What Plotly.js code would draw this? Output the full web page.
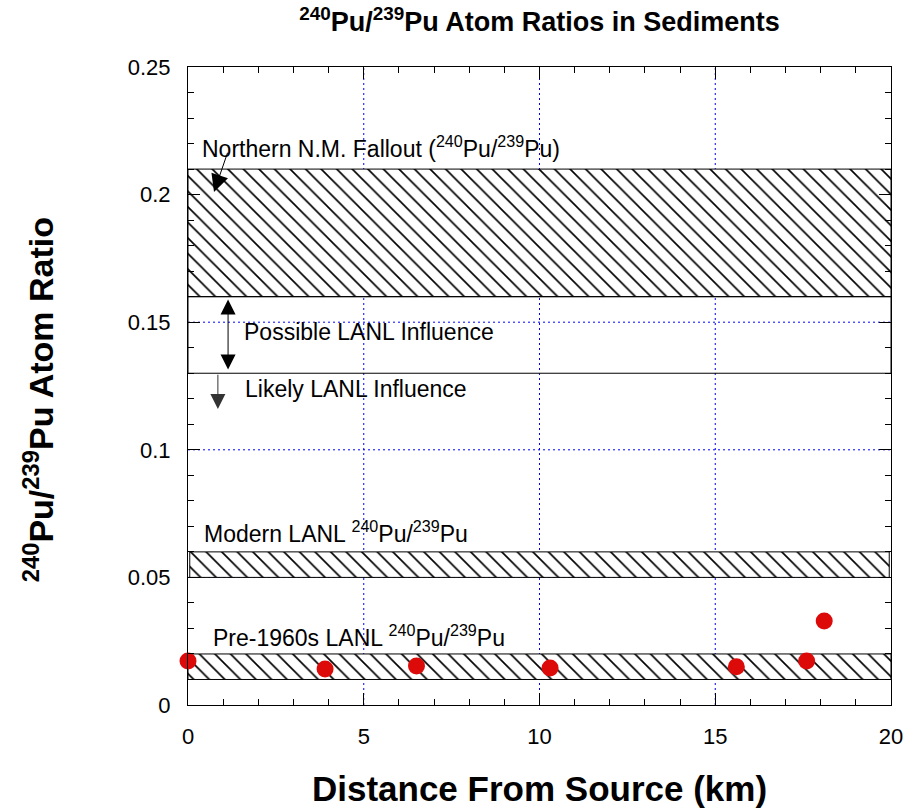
<!DOCTYPE html>
<html>
<head>
<meta charset="utf-8">
<script src="https://cdn.plot.ly/plotly-3.0.1.min.js"></script>
<style>html,body{margin:0;padding:0;background:#fff;}#chart{width:905px;height:812px;}</style>
</head>
<body>
<div id="chart"></div>
<script>
// Sample data: distance from source (km) and 240Pu/239Pu atom ratio
const distanceKm = [0, 3.9, 6.5, 10.3, 15.6, 17.6, 18.1];
const atomRatio  = [0.0172, 0.0141, 0.0153, 0.0145, 0.0150, 0.0172, 0.0329];

// Reference bands (hatched): [xStart, xEnd, yLow, yHigh]
const bandNames = ["Northern N.M. Fallout", "Modern LANL", "Pre-1960s LANL"];
const bandXStart = [0, 0.05, 0];
const bandXEnd   = [20, 19.95, 20];
const bandLow    = [0.16, 0.05, 0.01];
const bandHigh   = [0.21, 0.06, 0.02];

// Open (unhatched) band: possible LANL influence
const openBandLow = 0.13;
const openBandHigh = 0.16;

const xTickVals = [0, 5, 10, 15, 20];
const yTickVals = [0, 0.05, 0.1, 0.15, 0.2, 0.25];
const yTickText = ["0", "0.05", "0.1", "0.15", "0.2", "0.25"];

const FONT = "Arial, 'Liberation Sans', sans-serif";

const traces = [];
for (let i = 0; i < bandNames.length; i++) {
  traces.push({
    type: "scatter", mode: "lines", name: bandNames[i],
    x: [bandXStart[i], bandXEnd[i], bandXEnd[i], bandXStart[i], bandXStart[i]],
    y: [bandLow[i], bandLow[i], bandHigh[i], bandHigh[i], bandLow[i]],
    fill: "toself",
    fillcolor: "white",
    fillpattern: {shape: "\\", bgcolor: "white", fgcolor: "black", size: 11, solidity: 0.15},
    line: {color: "black", width: 1},
    hoverinfo: "skip", showlegend: false
  });
}
traces.push({
  type: "scatter", mode: "lines", name: "Possible LANL Influence",
  x: [0, 20, 20, 0, 0],
  y: [openBandLow, openBandLow, openBandHigh, openBandHigh, openBandLow],
  line: {color: "black", width: 1},
  hoverinfo: "skip", showlegend: false
});
traces.push({
  type: "scatter", mode: "markers", name: "Sediments",
  x: distanceKm, y: atomRatio,
  marker: {color: "#dd0a0a", size: 17},
  cliponaxis: false, showlegend: false
});

// blue dotted grid lines at interior major ticks (drawn below the bands)
const shapes = [];
xTickVals.slice(1, -1).forEach(v => shapes.push({
  type: "line", layer: "below", xref: "x", yref: "paper", x0: v, x1: v, y0: 0, y1: 1,
  line: {color: "#0000ff", width: 1, dash: "2px,3px"}
}));
yTickVals.slice(1, -1).forEach(v => shapes.push({
  type: "line", layer: "below", xref: "paper", yref: "y", x0: 0, x1: 1, y0: v, y1: v,
  line: {color: "#0000ff", width: 1, dash: "2px,3px"}
}));

const textFont = {family: FONT, size: 23, color: "black"};
const annotations = [
  {x: 0.34, y: 0.2186, xref: "x", yref: "y", xanchor: "left", yanchor: "middle", showarrow: false,
   text: "Northern N.M. Fallout (<sup>240</sup>Pu/<sup>239</sup>Pu)", font: textFont},
  {x: 1.54, y: 0.1462, xref: "x", yref: "y", xanchor: "left", yanchor: "middle", showarrow: false,
   text: "Possible LANL Influence", font: textFont},
  {x: 1.56, y: 0.1238, xref: "x", yref: "y", xanchor: "left", yanchor: "middle", showarrow: false,
   text: "Likely LANL Influence", font: textFont},
  {x: 0.40, y: 0.0678, xref: "x", yref: "y", xanchor: "left", yanchor: "middle", showarrow: false,
   text: "Modern LANL <sup>240</sup>Pu/<sup>239</sup>Pu", font: textFont},
  {x: 0.65, y: 0.0270, xref: "x", yref: "y", xanchor: "left", yanchor: "middle", showarrow: false,
   text: "Pre-1960s LANL <sup>240</sup>Pu/<sup>239</sup>Pu", font: textFont},
  // arrows
  {x: 0.74, y: 0.2010, ax: 1.14, ay: 0.2170, xref: "x", yref: "y", axref: "x", ayref: "y",
   text: "", showarrow: true, arrowhead: 2, arrowsize: 3.5, arrowwidth: 1, arrowcolor: "black"},
  {x: 1.14, y: 0.1315, ax: 1.14, ay: 0.1595, xref: "x", yref: "y", axref: "x", ayref: "y",
   text: "", showarrow: true, arrowhead: 2, startarrowhead: 2, arrowside: "end+start",
   arrowsize: 3, startarrowsize: 3, arrowwidth: 1, arrowcolor: "black"},
  {x: 0.85, y: 0.1160, ax: 0.85, ay: 0.1300, xref: "x", yref: "y", axref: "x", ayref: "y",
   text: "", showarrow: true, arrowhead: 2, arrowsize: 3, arrowwidth: 1, arrowcolor: "#333"},
  // y axis title
  {x: -0.213, y: 0.478, xref: "paper", yref: "paper", xanchor: "center", yanchor: "middle",
   showarrow: false, textangle: -90,
   text: "<sup>240</sup>Pu/<sup>239</sup>Pu Atom Ratio",
   font: {family: FONT, size: 34, color: "black", weight: "bold"}}
];

const layout = {
  width: 905, height: 812,
  margin: {l: 188, r: 14, t: 67, b: 107},
  paper_bgcolor: "white", plot_bgcolor: "white",
  font: {family: FONT, size: 22, color: "black"},
  title: {text: "<b><sup>240</sup>Pu/<sup>239</sup>Pu Atom Ratios in Sediments</b>",
          x: 0.5, xref: "paper", y: 1 - 22/812, yref: "container", yanchor: "middle",
          font: {family: FONT, size: 27, color: "black"}},
  xaxis: {
    range: [0, 20], tickvals: xTickVals, ticktext: xTickVals.map(String),
    ticks: "inside", ticklen: 12, tickwidth: 1, tickcolor: "black",
    minor: {dtick: 1, ticks: "inside", ticklen: 6, tickcolor: "black", showgrid: false},
    showline: true, linecolor: "black", linewidth: 1, mirror: "allticks",
    showgrid: false, zeroline: false, ticklabelstandoff: 12,
    tickfont: {family: FONT, size: 22, color: "black"},
    title: {text: "<b>Distance From Source (km)</b>", standoff: 28,
            font: {family: FONT, size: 35, color: "black"}}
  },
  yaxis: {
    range: [0, 0.25], tickvals: yTickVals, ticktext: yTickText,
    ticks: "inside", ticklen: 12, tickwidth: 1, tickcolor: "black",
    minor: {dtick: 0.01, ticks: "inside", ticklen: 6, tickcolor: "black", showgrid: false},
    showline: true, linecolor: "black", linewidth: 1, mirror: "allticks",
    showgrid: false, zeroline: false, ticklabelstandoff: 12,
    tickfont: {family: FONT, size: 22, color: "black"}
  },
  shapes: shapes,
  annotations: annotations,
  showlegend: false
};

Plotly.newPlot("chart", traces, layout, {displayModeBar: false, staticPlot: true});
</script>
</body>
</html>
